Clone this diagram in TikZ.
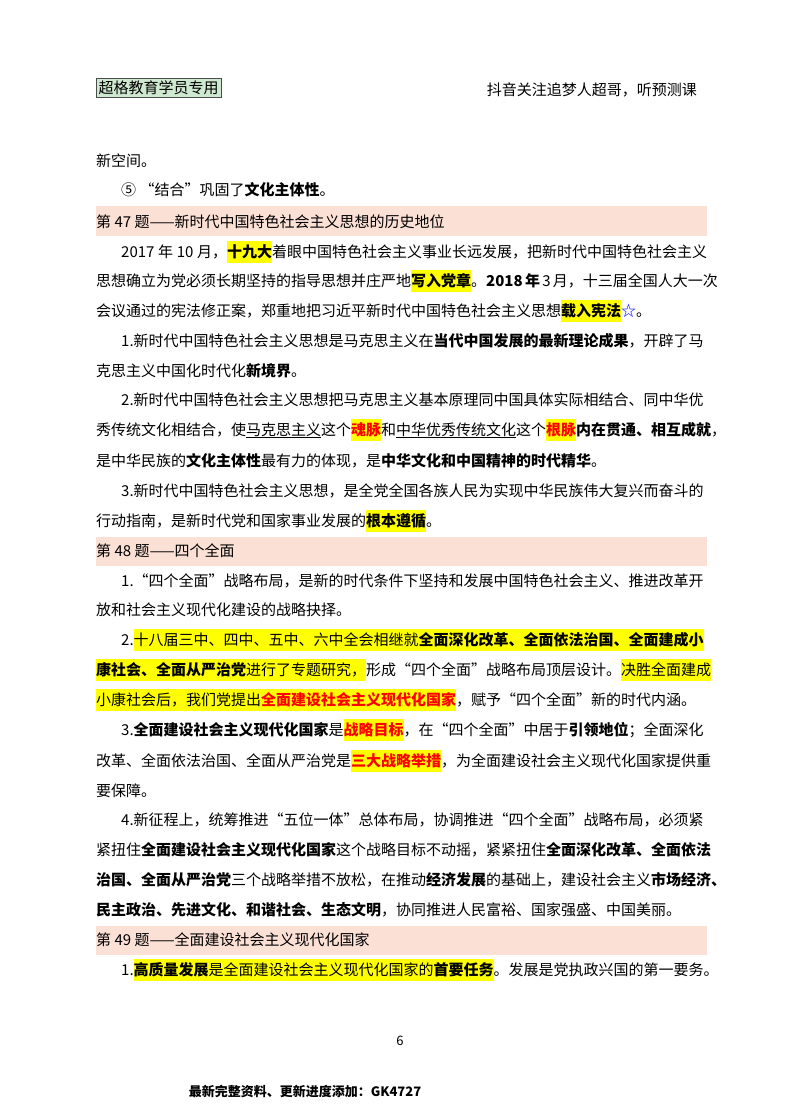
\documentclass[tikz,border=0pt]{standalone}
\usepackage{fontspec}
\setmainfont{Noto Sans CJK SC}
\XeTeXlinebreaklocale "zh"
\XeTeXlinebreakskip=0pt plus 3pt minus 0.6pt
\definecolor{band}{HTML}{FBE0D6}
\definecolor{tagbg}{HTML}{CFE8D0}
\definecolor{hly}{HTML}{FFFF00}
\newcommand\hl[1]{{\setlength\fboxsep{0pt}\colorbox{hly}{\rule[-6pt]{0pt}{22pt}#1}}}
\newcommand\rd[1]{\textcolor{red}{\bfseries #1}}
\newcommand\fullA[1]{\hbox to 611pt{#1}}
\newcommand\fullB[1]{\hbox to 586pt{#1}}
\tikzset{ln/.style={anchor=base west,inner sep=0pt,font=\fontsize{15}{18}\selectfont},
 bandbox/.style={fill=band,draw=none}}
\begin{document}
\begin{tikzpicture}[x=1pt,y=-1pt]
\useasboundingbox (0,0) rectangle (800,1114);
\node[draw=black!70,fill=tagbg,inner sep=2.5pt,anchor=west,font=\fontsize{15}{17}\selectfont] (tag) at (96,88) {超格教育学员专用};
\node[anchor=east,inner sep=0pt,font=\fontsize{15}{17}\selectfont] (hdr) at (697,90) {抖音关注追梦人超哥，听预测课};
\fill[bandbox] (96,206) rectangle (707,236);
\fill[bandbox] (96,537) rectangle (707,566);
\fill[bandbox] (96,926) rectangle (707,955);
\node[ln] (l1) at (96,166) {新空间。};
\node[ln] (l2) at (121,195) {⑤ “结合”巩固了\textbf{文化主体性}。};
\node[ln] (h47) at (96,227) {第 47 题——新时代中国特色社会主义思想的历史地位};
\node[ln] (l3) at (121,257) {\fullB{2017 年 10 月，\hl{\textbf{十九大}}着眼中国特色社会主义事业长远发展，把新时代中国特色社会主义}};
\node[ln] (l4) at (96,286) {\fullA{思想确立为党必须长期坚持的指导思想并庄严地\hl{\textbf{写入党章}}。\textbf{2018 年} 3 月，十三届全国人大一次}};
\node[ln] (l5) at (96,316) {会议通过的宪法修正案，郑重地把习近平新时代中国特色社会主义思想\hl{\textbf{载入宪法}}\textcolor{blue}{☆}。};
\node[ln] (l6) at (121,346) {\fullB{1.新时代中国特色社会主义思想是马克思主义在\textbf{当代中国发展的最新理论成果}，开辟了马}};
\node[ln] (l7) at (96,376) {克思主义中国化时代化\textbf{新境界}。};
\node[ln] (l8) at (121,405) {\fullB{2.新时代中国特色社会主义思想把马克思主义基本原理同中国具体实际相结合、同中华优}};
\node[ln] (l9) at (96,435) {\fullA{秀传统文化相结合，使\underline{马克思主义}这个\hl{\rd{魂脉}}和\underline{中华优秀传统文化}这个\hl{\rd{根脉}}\textbf{内在贯通、相互成就}，}};
\node[ln] (l10) at (96,466) {是中华民族的\textbf{文化主体性}最有力的体现，是\textbf{中华文化和中国精神的时代精华}。};
\node[ln] (l11) at (121,496) {\fullB{3.新时代中国特色社会主义思想，是全党全国各族人民为实现中华民族伟大复兴而奋斗的}};
\node[ln] (l12) at (96,526) {行动指南，是新时代党和国家事业发展的\hl{\textbf{根本遵循}}。};
\node[ln] (h48) at (96,556) {第 48 题——四个全面};
\node[ln] (l13) at (121,586) {\fullB{1.“四个全面”战略布局，是新的时代条件下坚持和发展中国特色社会主义、推进改革开}};
\node[ln] (l14) at (96,615) {放和社会主义现代化建设的战略抉择。};
\node[ln] (l15) at (121,645) {\fullB{2.\hl{十八届三中、四中、五中、六中全会相继就\textbf{全面深化改革、全面依法治国、全面建成小}}}};
\node[ln] (l16) at (96,675) {\fullA{\hl{\textbf{康社会、全面从严治党}进行了专题研究，}形成“四个全面”战略布局顶层设计。\hl{决胜全面建成}}};
\node[ln] (l17) at (96,705) {\hl{小康社会后，我们党提出\rd{全面建设社会主义现代化国家}}，赋予“四个全面”新的时代内涵。};
\node[ln] (l18) at (121,735) {\fullB{3.\textbf{全面建设社会主义现代化国家}是\hl{\rd{战略目标}}，在“四个全面”中居于\textbf{引领地位}；全面深化}};
\node[ln] (l19) at (96,766) {\fullA{改革、全面依法治国、全面从严治党是\hl{\rd{三大战略举措}}，为全面建设社会主义现代化国家提供重}};
\node[ln] (l20) at (96,796) {要保障。};
\node[ln] (l21) at (121,825) {\fullB{4.新征程上，统筹推进“五位一体”总体布局，协调推进“四个全面”战略布局，必须紧}};
\node[ln] (l22) at (96,855) {\fullA{紧扭住\textbf{全面建设社会主义现代化国家}这个战略目标不动摇，紧紧扭住\textbf{全面深化改革、全面依法}}};
\node[ln] (l23) at (96,885) {\fullA{\textbf{治国、全面从严治党}三个战略举措不放松，在推动\textbf{经济发展}的基础上，建设社会主义\textbf{市场经济、}}};
\node[ln] (l24) at (96,915) {\textbf{民主政治、先进文化、和谐社会、生态文明}，协同推进人民富裕、国家强盛、中国美丽。};
\node[ln] (h49) at (96,945) {第 49 题——全面建设社会主义现代化国家};
\node[ln] (l25) at (121,975) {1.\hl{\textbf{高质量发展}是全面建设社会主义现代化国家的\textbf{首要任务}}。发展是党执政兴国的第一要务。};
\node[inner sep=0pt,font=\fontsize{13}{15}\selectfont] (pg) at (400,1041) {6};
\node[inner sep=0pt,font=\fontsize{13}{15}\selectfont\bfseries] (ft) at (305,1092) {最新完整资料、更新进度添加：GK4727};
\end{tikzpicture}
\end{document}
